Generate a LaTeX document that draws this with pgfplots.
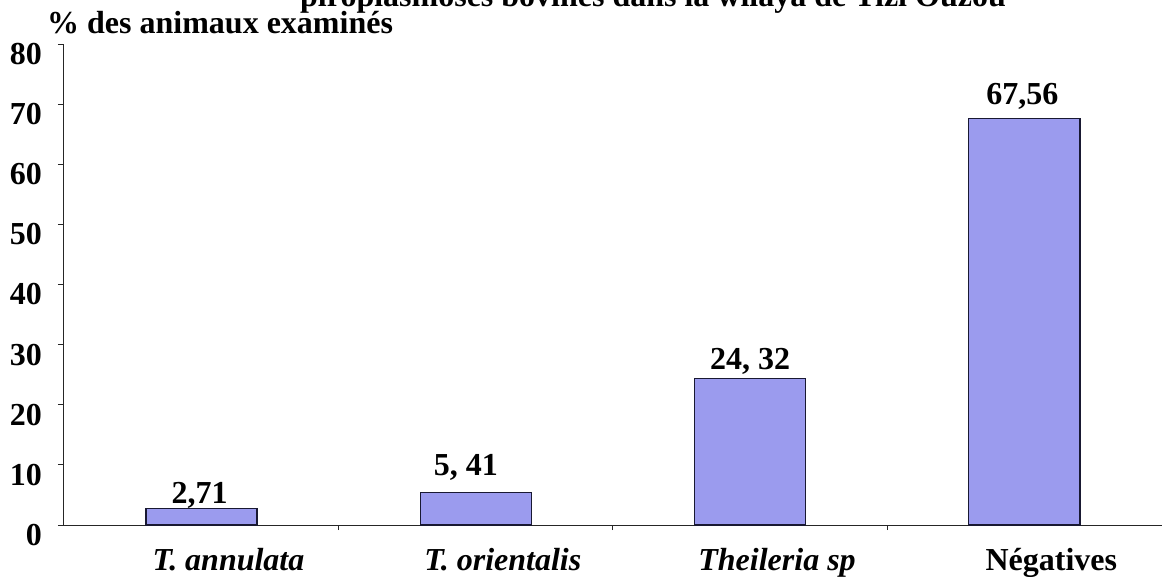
\documentclass[border=0pt]{standalone}
\usepackage{pgfplots}
\pgfplotsset{compat=1.18}
\usepackage{fontspec}
\setmainfont{Liberation Serif}
\definecolor{barfill}{RGB}{155,155,238}
\definecolor{baredge}{RGB}{25,25,50}
\newcommand{\tickf}{\fontsize{32}{32}\selectfont\bfseries}
\newcommand{\valf}{\fontsize{32}{32}\selectfont\bfseries}
\begin{document}
\begin{tikzpicture}[x=1pt,y=1pt]
\begin{axis}[
  at={(0,0)}, anchor=south west,
  scale only axis, width=1099pt, height=481pt,
  xmin=-0.505, xmax=3.502, ymin=0, ymax=80,
  axis lines=left,
  axis line style={-, line width=0.9pt, black!85},
  ytick={0,10,...,80},
  xtick={0,1,2,3},
  xticklabels={{\itshape T. annulata},{\itshape T. orientalis},{\itshape Theileria sp},{N\'egatives}},
  xtick style={draw=none},
  extra x ticks={0.5,1.5,2.5},
  extra x tick labels={},
  extra x tick style={xtick style={draw=black!85, line width=0.9pt}},
  tick align=outside,
  major tick length=5pt,
  ytick style={draw=black!85, line width=0.9pt},
  /pgf/number format/assume math mode=true,
  yticklabel style={font=\tickf, anchor=east, inner sep=0pt, xshift=-16pt, yshift=-10pt},
  xticklabel style={font=\fontsize{32}{32}\selectfont\bfseries, anchor=base, inner sep=0pt, yshift=-40pt, xshift=27pt},
  clip=false,
]
\addplot[ybar, bar width=111pt, bar shift=0pt, fill=barfill, draw=baredge, line width=1.3pt,
  nodes near coords, point meta=explicit symbolic,
  every node near coord/.append style={font=\valf, text=black, anchor=base, inner sep=0pt, yshift=5pt, xshift=-2pt}]
  coordinates {(0,2.71) [2,71]};
\addplot[ybar, bar width=111pt, bar shift=0pt, fill=barfill, draw=baredge, line width=1.3pt,
  nodes near coords, point meta=explicit symbolic,
  every node near coord/.append style={font=\valf, text=black, anchor=base, inner sep=0pt, yshift=17pt, xshift=-10pt}]
  coordinates {(1,5.41) [5, 41]};
\addplot[ybar, bar width=111pt, bar shift=0pt, fill=barfill, draw=baredge, line width=1.3pt,
  nodes near coords, point meta=explicit symbolic,
  every node near coord/.append style={font=\valf, text=black, anchor=base, inner sep=0pt, yshift=9pt}]
  coordinates {(2,24.32) [24, 32]};
\addplot[ybar, bar width=111pt, bar shift=0pt, fill=barfill, draw=baredge, line width=1.3pt,
  nodes near coords, point meta=explicit symbolic,
  every node near coord/.append style={font=\valf, text=black, anchor=base, inner sep=0pt, yshift=14pt, xshift=-2pt}]
  coordinates {(3,67.56) [67,56]};
\end{axis}
\node[anchor=base west, inner sep=0pt, font=\fontsize{32}{32}\selectfont\bfseries] at (-16,491) {\% des animaux examinés};
\node[anchor=base west, inner sep=0pt, font=\fontsize{32}{32}\selectfont\bfseries] at (237,518) {piroplasmoses bovines dans la wilaya de Tizi Ouzou};
\pgfresetboundingbox
\useasboundingbox (-63,-51) rectangle (1099,525);
\end{tikzpicture}
\end{document}
